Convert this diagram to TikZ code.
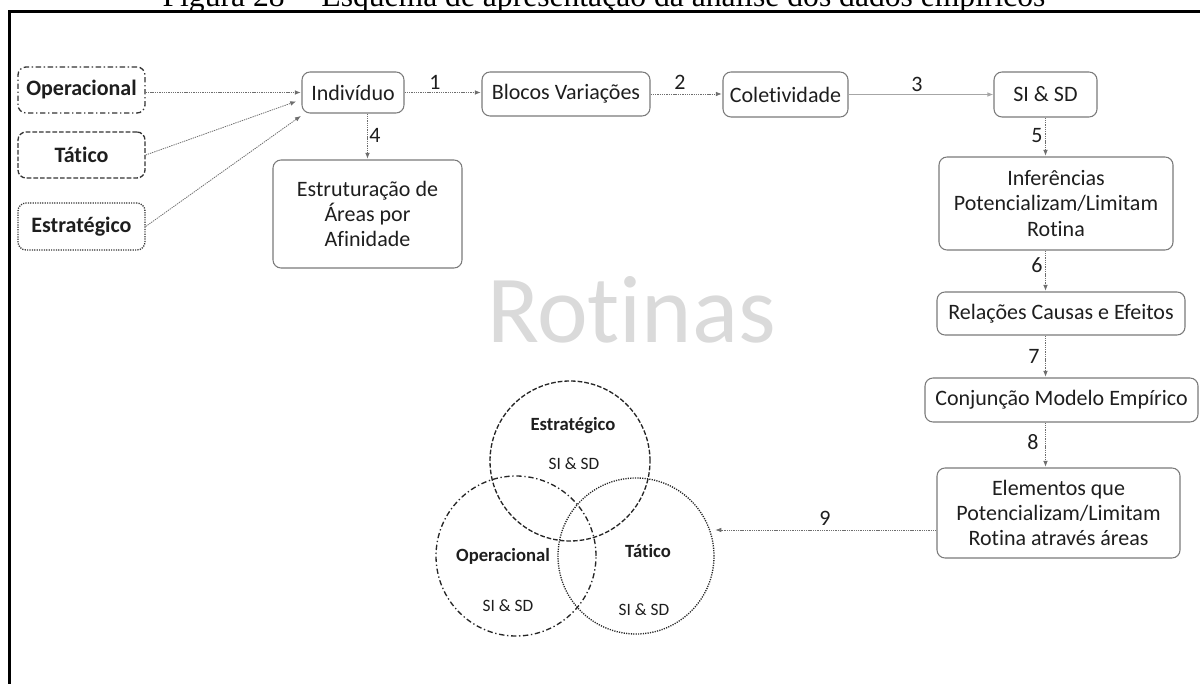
\documentclass[tikz,border=0pt]{standalone}
\usepackage{fontspec}
\setmainfont{Carlito}[Ligatures=NoCommon]
\newfontfamily\titlefont{Liberation Serif}
\usetikzlibrary{arrows.meta,positioning}

\definecolor{ink}{HTML}{1E1E1E}
\definecolor{rim}{HTML}{7A7A7A}
\definecolor{flow}{HTML}{6E6E6E}
\definecolor{mark}{HTML}{DADADA}

\tikzset{
  txt/.style={font=\fontsize{16.5}{19}\selectfont, text=ink},
  smalltxt/.style={font=\fontsize{13}{15}\selectfont, text=ink},
  boldtxt/.style={font=\fontsize{14}{16}\selectfont\bfseries, text=ink},
  stepbox/.style={txt, draw=rim, line width=0.8pt, rounded corners=6pt,
    align=center, inner sep=2pt},
  levelbox/.style={txt, font=\fontsize{16.5}{19}\selectfont\bfseries,
    draw=black!80, line width=1pt, rounded corners=6pt,
    minimum width=95.25pt, minimum height=34.5pt, inner sep=2pt},
  dashdotline/.style={dash pattern=on 4pt off 2pt on 1pt off 2pt},
  dashline/.style={dash pattern=on 3.5pt off 1.5pt},
  dotline/.style={dash pattern=on 0.9pt off 0.9pt},
  arr/.style={draw=flow, line width=0.6pt, dash pattern=on 1pt off 0.7pt,
    -{Latex[length=4.5pt,width=3.5pt]}, shorten >=0.5pt},
  num/.style={txt},
  ring/.style={circle, draw=black!85, line width=1pt, inner sep=0pt},
}

\begin{document}
\begin{tikzpicture}[x=0.75pt, y=-0.75pt]
  \useasboundingbox (0,0) rectangle (1200,684);

  % caption line, partly above the frame
  \node[anchor=base, font=\titlefont\fontsize{23.7}{26}\selectfont] (title) at (604,7)
    {Figura 28 -- Esquema de apresentação da análise dos dados empíricos};

  % frame
  \draw[line width=2.25pt] (9.5,684) -- (9.5,11.5) -- (1200,11.5);

  % background word
  \node[anchor=base, font=\fontsize{72}{80}\selectfont, text=mark] (wm) at (631.5,343) {Rotinas};

  % level boxes on the left
  \node[levelbox, dashdotline] (op) at (81.5,90) {Operacional};
  \node[levelbox, dashline] (ta) at (81.5,155) {Tático};
  \node[levelbox, dotline, minimum height=35.25pt] (es) at (81.5,226.5) {Estratégico};

  % main flow
  \node[stepbox, minimum width=76.5pt, minimum height=30.75pt] (ind) at (353,92.5) {Indivíduo};
  \node[stepbox, minimum width=141.75pt, minimum height=81pt] (estr) at (367.5,214)
    {Estruturação de\\Áreas por\\Afinidade};
  \node[stepbox, minimum width=126pt, minimum height=33pt] (blo) at (566,94) {Blocos Variações};
  \node[stepbox, minimum width=93.75pt, minimum height=33.75pt] (col) at (785.5,94.5) {Coletividade};
  \node[stepbox, minimum width=77.25pt, minimum height=33.75pt] (sisd) at (1045.5,94.5) {SI \& SD};
  \node[stepbox, minimum width=175.5pt, minimum height=69.75pt] (inf) at (1056,203.5)
    {Inferências\\Potencializam/Limitam\\Rotina};
  \node[stepbox, minimum width=186pt, minimum height=32.25pt] (rel) at (1061,313.5)
    {Relações Causas e Efeitos};
  \node[stepbox, minimum width=204.75pt, minimum height=33pt] (con) at (1061.5,400)
    {Conjunção Modelo Empírico};
  \node[stepbox, minimum width=182.25pt, minimum height=67.5pt] (ele) at (1058.5,513)
    {Elementos que\\Potencializam/Limitam\\Rotina através áreas};

  % the three overlapping areas
  \node[ring, dashline, minimum size=120pt] (cE) at (570,461) {};
  \node[ring, dashdotline, minimum size=120pt] (cO) at (516,556) {};
  \node[ring, dotline, minimum size=117pt] (cT) at (636,556) {};
  \node[boldtxt] (cEt) at (573,426) {Estratégico};
  \node[smalltxt] (cEs) at (574,464) {SI \& SD};
  \node[boldtxt] (cOt) at (503,556) {Operacional};
  \node[smalltxt] (cOs) at (508,606) {SI \& SD};
  \node[boldtxt] (cTt) at (648,551) {Tático};
  \node[smalltxt] (cTs) at (644,610) {SI \& SD};

  % inputs to the individual
  \draw[arr] (op.east |- ind.west) -- (ind.west);
  \draw[arr] (ta.east) -- ([xshift=-3.5pt,yshift=-6.5pt]ind.west);
  \draw[arr] (es.east) -- ([yshift=-1.5pt]ind.south west);

  % numbered steps
  \draw[arr] (ind.east) -- (ind.east -| blo.west);
  \node[num] (n1) at (435,82) {1};
  \draw[arr] (blo.east) -- (blo.east -| col.west);
  \node[num] (n2) at (680,82) {2};
  \draw[draw=black!35, line width=1.1pt, -{Latex[length=4.5pt,width=3.5pt]}]
    (col.east) -- (col.east -| sisd.west);
  \node[num] (n3) at (917,84) {3};
  \draw[arr] (estr.north |- ind.south) -- (estr.north);
  \node[num] (n4) at (375,135) {4};
  \draw[arr] (sisd.south) -- (sisd.south |- inf.north);
  \node[num] (n5) at (1037,136) {5};
  \draw[arr] (sisd.south |- inf.south) -- (sisd.south |- rel.north);
  \node[num] (n6) at (1037,265) {6};
  \draw[arr] (sisd.south |- rel.south) -- (sisd.south |- con.north);
  \node[num] (n7) at (1034,356) {7};
  \draw[arr] (sisd.south |- con.south) -- (sisd.south |- ele.north);
  \node[num] (n8) at (1033,442) {8};
  \coordinate (e9) at ([yshift=-12.75pt]ele.west);
  \draw[arr] (e9) -- (e9 -| cT.east);
  \node[num] (n9) at (825,518) {9};
\end{tikzpicture}
\end{document}
